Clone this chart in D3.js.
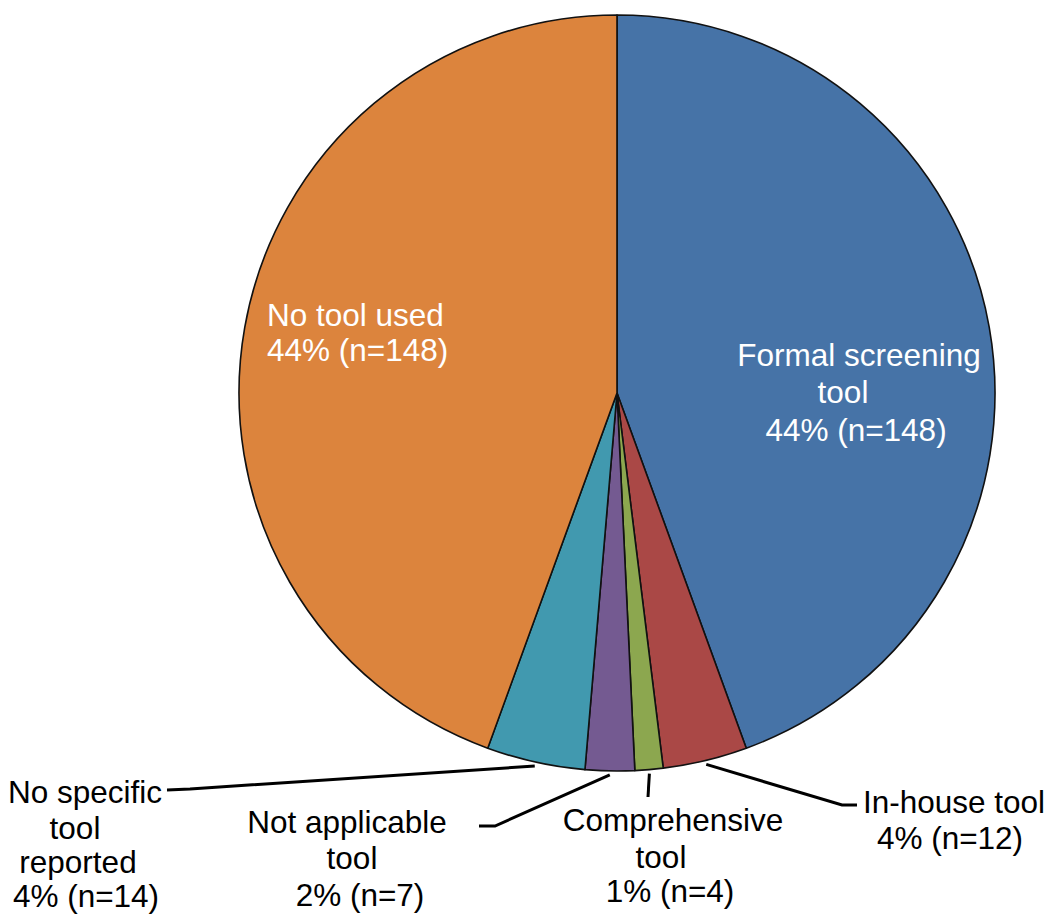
<!DOCTYPE html>
<html lang="en">
<head>
  <meta charset="UTF-8">
  <title>Screening tool pie</title>
  <script src="https://d3js.org/d3.v7.min.js"></script>
  <style>
    body { margin: 0; background: #fff; }
    text { font-family: "Liberation Sans", Arial, sans-serif; font-size: 31.5px; }
  </style>
</head>
<body>
<script>
// data, clockwise from 12 o'clock
var categories = ["Formal screening tool", "In-house tool", "Comprehensive tool",
                  "Not applicable tool", "No specific tool reported", "No tool used"];
var counts = [148, 12, 4, 7, 14, 148];
var percents = ["44%", "4%", "1%", "2%", "4%", "44%"];
var colors = ["#4673a7", "#aa4846", "#8ca74f", "#745a91", "#4199af", "#dc843d"];

var width = 1050, height = 919;
var cx = 617, cy = 393, radius = 378;

// label layout: lines of text, anchor and leader elbow (null = inside slice)
var labelLayout = [
  {lines: [["Formal screening", 859, 366], ["tool", 843, 403], ["44% (n=148)", 856, 441]], fill: "#fff", leader: null},
  {lines: [["In-house tool", 954, 813], ["4% (n=12)", 950, 849]], fill: "#000", leader: [[842, 805], [857, 805]]},
  {lines: [["Comprehensive", 673, 831], ["tool", 661, 868], ["1% (n=4)", 670, 902]], fill: "#000", leader: [[648, 797]]},
  {lines: [["Not applicable", 347, 833], ["tool", 352, 869], ["2% (n=7)", 360, 906]], fill: "#000", leader: [[495, 826], [479, 826]]},
  {lines: [["No specific", 85, 803], ["tool", 75, 839], ["reported", 78, 873], ["4% (n=14)", 86, 907]], fill: "#000", leader: [[190, 789], [167, 790]]},
  {lines: [["No tool used", 267, 326, "start"], ["44% (n=148)", 267, 361, "start"]], fill: "#fff", leader: null}
];

var svg = d3.select("body").append("svg")
    .attr("width", width)
    .attr("height", height);

var g = svg.append("g").attr("transform", "translate(" + cx + "," + cy + ")");

var pie = d3.pie().sort(null).value(function(d) { return d; });
var arcs = pie(counts);
var arc = d3.arc().innerRadius(0).outerRadius(radius);

g.selectAll("path.slice")
  .data(arcs)
  .enter().append("path")
    .attr("class", "slice")
    .attr("d", arc)
    .attr("fill", function(d, i) { return colors[i]; })
    .attr("stroke", "#111")
    .attr("stroke-width", 1.6)
    .attr("stroke-linejoin", "round");

// leader lines start on the rim at the middle of each slice
arcs.forEach(function(a, i) {
  var lay = labelLayout[i];
  if (!lay.leader) return;
  var mid = (a.startAngle + a.endAngle) / 2;
  var r = radius + 4;
  var pts = [[cx + r * Math.sin(mid), cy - r * Math.cos(mid)]].concat(lay.leader);
  svg.append("path")
    .attr("d", d3.line()(pts))
    .attr("fill", "none")
    .attr("stroke", "#000")
    .attr("stroke-width", 3);
});

labelLayout.forEach(function(lay, i) {
  lay.lines.forEach(function(l) {
    svg.append("text")
      .attr("x", l[1])
      .attr("y", l[2])
      .attr("text-anchor", l[3] || "middle")
      .attr("fill", lay.fill)
      .text(l[0]);
  });
});
</script>
</body>
</html>
